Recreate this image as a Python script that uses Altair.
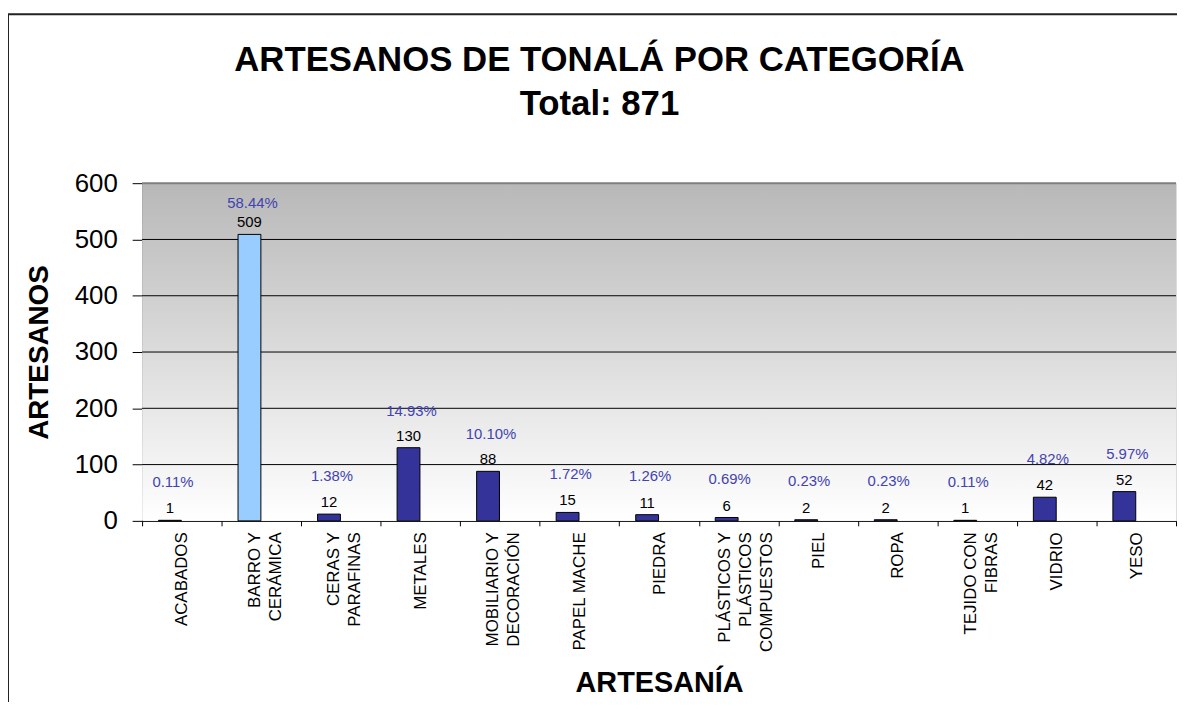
import altair as alt
import pandas as pd

# ---- data ----
categories = [
    "ACABADOS", "BARRO Y\nCERÁMICA", "CERAS Y\nPARAFINAS", "METALES",
    "MOBILIARIO Y\nDECORACIÓN", "PAPEL MACHE", "PIEDRA",
    "PLÁSTICOS Y\nPLÁSTICOS\nCOMPUESTOS", "PIEL", "ROPA",
    "TEJIDO CON\nFIBRAS", "VIDRIO", "YESO",
]
artesanos = [1, 509, 12, 130, 88, 15, 11, 6, 2, 2, 1, 42, 52]
porcentajes = [0.11, 58.44, 1.38, 14.93, 10.10, 1.72, 1.26, 0.69, 0.23, 0.23, 0.11, 4.82, 5.97]
y_ticks = [0, 100, 200, 300, 400, 500, 600]
grid_values = [100, 200, 300, 400, 500, 600]
title_lines = ["ARTESANOS DE TONALÁ POR CATEGORÍA", "Total: 871"]

W, H = 1041, 340
FONT = "Liberation Sans"

df = pd.DataFrame({"cat": categories, "n": artesanos, "pct": porcentajes})
df_grid = pd.DataFrame({"g": grid_values})
df_one = pd.DataFrame({"k": [0]})

label_shift = {
    "condition": [
        {"test": "length(split(datum.label, '\\n')) == 3", "value": -14},
        {"test": "length(split(datum.label, '\\n')) == 2", "value": -7},
    ],
    "value": 0,
}

x_enc = alt.X(
    "cat:N", sort=None,
    scale=alt.Scale(paddingInner=0, paddingOuter=0),
    axis=alt.Axis(
        title="ARTESANÍA", titleFont=FONT, titleFontSize=29, titleFontWeight="bold",
        titleColor="black", titleY=163, titleBaseline="middle",
        labelAngle=270, labelAlign="right", labelBaseline="middle",
        labelFont=FONT, labelFontSize=17, labelColor="black", labelLineHeight=21,
        labelExpr="split(datum.label, '\\n')", labelPadding=6, labelOverlap=False,
        labelLimit=400, labelOffset=label_shift,
        tickBand="extent", tickSize=5, tickColor="black", domainColor="black",
        grid=False,
    ),
)

y_scale = alt.Scale(domain=[0, 600], nice=False)
y_axis = alt.Axis(
    values=y_ticks, title="ARTESANOS", titleFont=FONT, titleFontSize=28,
    titleFontWeight="bold", titleColor="black", titleX=-103, titleY=H / 2,
    titleAngle=270, titleBaseline="middle", titleAlign="center",
    labelFont=FONT, labelFontSize=26, labelColor="black", labelPadding=15,
    tickSize=10, tickColor="black", domainColor="black", grid=False,
)

background = alt.Chart(df_one).mark_rect(
    fill=alt.LinearGradient(
        gradient="linear",
        stops=[alt.GradientStop(color="#b8b8b8", offset=0),
               alt.GradientStop(color="#ffffff", offset=1)],
        x1=0, x2=0, y1=0, y2=1,
    )
).encode(x=alt.value(0), x2=alt.value(W), y=alt.value(0), y2=alt.value(H))

grid = alt.Chart(df_grid).mark_rule().encode(
    y=alt.Y("g:Q", scale=y_scale, axis=y_axis),
    color=alt.condition("datum.g == 600", alt.value("#7f7f7f"), alt.value("black")),
    size=alt.condition("datum.g == 600", alt.value(2), alt.value(1)),
)

bars = alt.Chart(df).mark_bar(size=23, xOffset=-12, stroke="black", strokeWidth=1).encode(
    x=x_enc,
    y=alt.Y("n:Q", scale=y_scale, axis=y_axis),
    color=alt.condition("test(regexp('CERÁMICA'), datum.cat)",
                        alt.value("#99ccff"), alt.value("#333399")),
)

counts = alt.Chart(df).mark_text(
    dx=-12, dy=-7, baseline="alphabetic", font=FONT, fontSize=15, color="black"
).encode(x=x_enc, y=alt.Y("n:Q", scale=y_scale, axis=y_axis), text=alt.Text("n:Q"))

frame_v = alt.Chart(df_one).mark_rule(color="#222222", strokeWidth=2).encode(
    x=alt.value(-135), y=alt.value(-170), y2=alt.value(H + 190))
frame_h = alt.Chart(df_one).mark_rule(color="#222222", strokeWidth=2).encode(
    x=alt.value(-136), x2=alt.value(W + 1), y=alt.value(-170))

main = alt.layer(frame_v, frame_h, background, grid, bars, counts)

pct = alt.Chart(df).transform_calculate(
    lbl="format(datum.pct, '.2f') + '%'"
).mark_text(
    dx=-9, baseline="middle", font=FONT, fontSize=15, color="#4343b0"
).encode(
    x=x_enc,
    y=alt.Y("pct:Q", scale=alt.Scale(domain=[-8.1, 62.7], nice=False, zero=False), axis=None),
    text="lbl:N",
)

chart = alt.layer(main, pct).resolve_scale(y="independent").properties(
    width=W, height=H,
    autosize=alt.AutoSizeParams(type="none"),
    padding={"left": 135, "top": 174, "right": 1, "bottom": 180},
    title=alt.TitleParams(
        text=title_lines, font=FONT, fontSize=35, fontWeight="bold", color="black",
        anchor="middle", dx=-60, offset=0, dy=144, baseline="bottom",
        lineHeight=44, frame="group",
    ),
).configure_view(stroke=None).configure(background="white")

chart.save("out.html", embed_options={"renderer": "svg", "actions": False})
